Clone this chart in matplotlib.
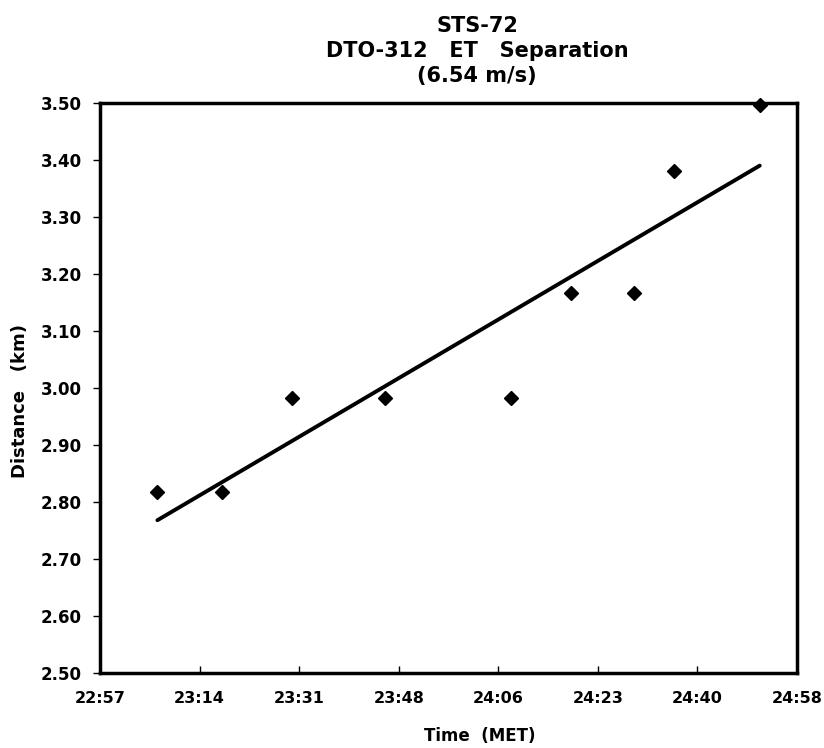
import numpy as np
import matplotlib
matplotlib.use("Agg")
import matplotlib.pyplot as plt

# ---- data ----
met_times = ["23:06:36", "23:17:50", "23:30:02", "23:46:04", "24:07:58",
             "24:18:26", "24:29:20", "24:36:14", "24:51:08"]
distance_km = [2.817, 2.817, 2.983, 2.983, 2.983, 3.167, 3.167, 3.380, 3.497]
x_tick_labels = ["22:57", "23:14", "23:31", "23:48", "24:06", "24:23", "24:40", "24:58"]
x_tick_days = [0.956, 0.968, 0.980, 0.992, 1.004, 1.016, 1.028, 1.040]
y_ticks = [2.50, 2.60, 2.70, 2.80, 2.90, 3.00, 3.10, 3.20, 3.30, 3.40, 3.50]
title_lines = ["STS-72", "DTO-312   ET   Separation", "(6.54 m/s)"]


def to_days(s):
    h, m, sec = (int(v) for v in s.split(":"))
    return (h * 3600 + m * 60 + sec) / 86400.0


x = np.array([to_days(t) for t in met_times])
y = np.array(distance_km)

plt.rcParams["font.family"] = ["DejaVu Sans"]
plt.rcParams["font.weight"] = "bold"

fig = plt.figure(figsize=(8.24, 7.48), dpi=100)
ax = fig.add_axes([100 / 824, 1 - 673 / 748, 697 / 824, (673 - 103) / 748])

# trend line (least squares)
k, b = np.polyfit(x, y, 1)
xl = np.array([x.min(), x.max()])
ax.plot(xl, k * xl + b, color="black", lw=2.8, solid_capstyle="round", zorder=2)

ax.plot(x, y, linestyle="none", marker="D", ms=7, color="black", zorder=3, clip_on=False)

ax.set_xlim(x_tick_days[0], x_tick_days[-1])
ax.set_ylim(y_ticks[0], y_ticks[-1])
ax.set_xticks(x_tick_days)
ax.set_xticklabels(x_tick_labels)
ax.set_yticks(y_ticks)
ax.set_yticklabels([f"{v:.2f}" for v in y_ticks])

for s in ax.spines.values():
    s.set_linewidth(2.5)
    s.set_color("black")

ax.tick_params(axis="y", direction="out", length=5, width=1, pad=8, labelsize=12)
ax.tick_params(axis="x", direction="in", length=5, width=1, pad=13, labelsize=11.5)
for lab in ax.get_xticklabels() + ax.get_yticklabels():
    lab.set_fontweight("bold")

fig.text(477 / 824, 1 - 51 / 748, "\n".join(title_lines), ha="center", va="center",
         fontsize=15, fontweight="bold", linespacing=1.3)
fig.text(20 / 824, 1 - 401 / 748, "Distance   (km)", rotation=90, ha="center", va="center",
         fontsize=13, fontweight="bold")
fig.text(480 / 824, 1 - 736 / 748, "Time  (MET)", ha="center", va="center",
         fontsize=12, fontweight="bold")

fig.savefig("out.png", dpi=100)
